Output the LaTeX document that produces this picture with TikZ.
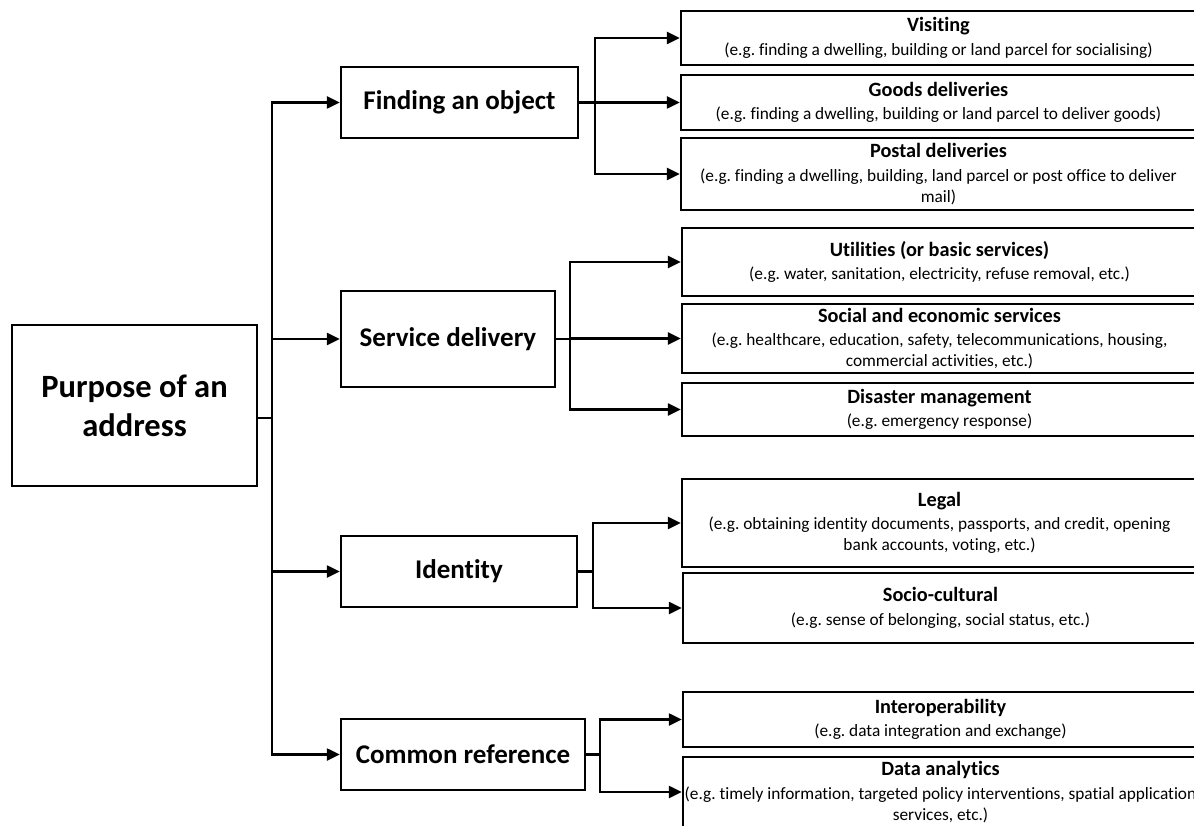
\documentclass[tikz,border=0pt]{standalone}
\usepackage{fontspec}
\setmainfont{Carlito}[Ligatures=NoCommon]
\usetikzlibrary{arrows.meta}
\frenchspacing
\begin{document}
\begin{tikzpicture}[x=1pt,y=-1pt,
  box/.style={draw=black, line width=2.5pt, fill=white, inner sep=0pt, align=center},
  rootbox/.style={box, minimum width=245pt, minimum height=161pt, font=\fontsize{32.5}{39}\selectfont\bfseries},
  midbox/.style={box, minimum height=71pt, font=\fontsize{27}{32}\selectfont\bfseries},
  leafbox/.style={box, minimum width=515pt, font=\fontsize{17.3}{21}\selectfont},
  conn/.style={line width=2.5pt, draw=black},
  arr/.style={conn, -{Triangle[length=13pt,width=12pt]}}]
\useasboundingbox (0,0) rectangle (1194,826);
\clip (0,0) rectangle (1194,826);
\newcommand{\tl}[1]{{\fontsize{20.3}{21}\selectfont\bfseries #1}\\[2.5pt]}
% root
\node[rootbox] (root) at (134.5,405.5) {Purpose of an\\address};
% level 1
\node[midbox, minimum width=237pt] (find) at (459.5,102.5) {Finding an object};
\node[midbox, minimum width=214pt, minimum height=96pt] (serv) at (448,339) {Service delivery};
\node[midbox, minimum width=236pt] (iden) at (459,571.5) {Identity};
\node[midbox, minimum width=244pt] (comm) at (463,754.5) {Common reference};
% level 2
\node[leafbox, minimum height=54pt] (vis) at (938.5,38) {\tl{Visiting}(e.g. finding a dwelling, building or land parcel for socialising)};
\node[leafbox, minimum height=55pt] (goods) at (938.5,102.5) {\tl{Goods deliveries}(e.g. finding a dwelling, building or land parcel to deliver goods)};
\node[leafbox, minimum height=72pt] (post) at (938.5,174) {\tl{Postal deliveries}(e.g. finding a dwelling, building, land parcel or post office to deliver\\mail)};
\node[leafbox, minimum height=68pt] (util) at (939.5,262) {\tl{Utilities (or basic services)}(e.g. water, sanitation, electricity, refuse removal, etc.)};
\node[leafbox, minimum height=69pt] (soc) at (939.5,338.5) {\tl{Social and economic services}(e.g. healthcare, education, safety, telecommunications, housing,\\commercial activities, etc.)};
\node[leafbox, minimum height=53pt] (dis) at (939.5,409.5) {\tl{Disaster management}(e.g. emergency response)};
\node[leafbox, minimum height=88pt] (legal) at (939.5,523) {\tl{Legal}(e.g. obtaining identity documents, passports, and credit, opening\\bank accounts, voting, etc.)};
\node[leafbox, minimum height=70pt] (socio) at (940.5,608) {\tl{Socio-cultural}(e.g. sense of belonging, social status, etc.)};
\node[leafbox, minimum height=55pt] (inter) at (940.5,719.5) {\tl{Interoperability}(e.g. data integration and exchange)};
\node[leafbox, minimum height=70pt] (data) at (940.5,792) {\tl{Data analytics}(e.g. timely information, targeted policy interventions, spatial application\\services, etc.)};
% trunk
\coordinate (tj) at (272,418);
\draw[conn] (root.east |- tj) -- (tj);
\draw[arr] (tj) |- (find.west);
\draw[arr] (tj) |- (serv.west);
\draw[arr] (tj) |- (iden.west);
\draw[arr] (tj) |- (comm.west);
% branches
\coordinate (fx) at (595,0);
\draw[conn] (find.east) -- (find.east -| fx);
\draw[arr] (find.east -| fx) |- (vis.west);
\draw[arr] (find.east -| fx) -- (goods.west);
\draw[arr] (find.east -| fx) |- (post.west);
\coordinate (sx) at (570,0);
\draw[conn] (serv.east) -- (serv.east -| sx);
\draw[arr] (serv.east -| sx) |- (util.west);
\draw[arr] (serv.east -| sx) |- (soc.west);
\draw[arr] (serv.east -| sx) |- (dis.west);
\coordinate (ix) at (593,0);
\draw[conn] (iden.east) -- (iden.east -| ix);
\draw[arr] (iden.east -| ix) |- (legal.west);
\draw[arr] (iden.east -| ix) |- (socio.west);
\coordinate (cx) at (600,0);
\draw[conn] (comm.east) -- (comm.east -| cx);
\draw[arr] (comm.east -| cx) |- (inter.west);
\draw[arr] (comm.east -| cx) |- (data.west);
\end{tikzpicture}
\end{document}
